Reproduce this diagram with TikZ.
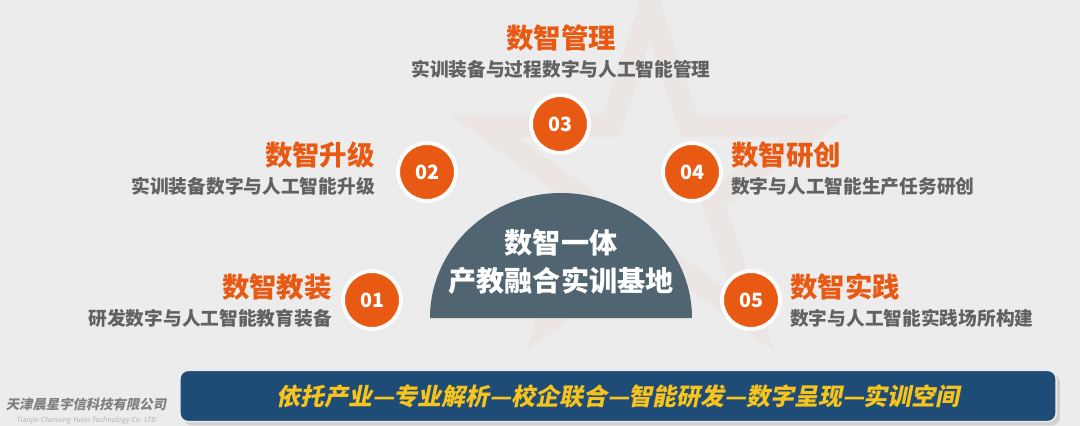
\documentclass[tikz,border=0pt]{standalone}
\usepackage{fontspec}
\setmainfont{Noto Sans CJK SC}
\newfontfamily\slantfont[FakeSlant=0.2]{Noto Sans CJK SC}
\usepackage{tikz}
\usetikzlibrary{positioning}
\usetikzlibrary{shadows}
\definecolor{paper}{RGB}{236,236,236}
\definecolor{orng}{RGB}{232,90,20}
\definecolor{subgray}{RGB}{98,98,98}
\definecolor{slate}{RGB}{80,101,113}
\definecolor{navy}{RGB}{30,76,118}
\definecolor{gold}{RGB}{246,196,28}

\begin{document}
\begin{tikzpicture}[x=0.025cm,y=-0.025cm,
    num/.style={circle,fill=orng,draw=white!97!gray,line width=0.1cm,minimum size=1.45cm,inner sep=0pt,
      text=white,font=\bfseries\fontsize{14}{16}\selectfont,drop shadow={opacity=0.18,shadow xshift=0.5pt,shadow yshift=-1pt}},
    head/.style={text=orng,font=\bfseries\fontsize{19.5}{22}\selectfont,inner sep=0pt},
    sub/.style={text=subgray,font=\bfseries\fontsize{13.3}{15}\selectfont,inner sep=0pt}]
      \useasboundingbox (0,0) rectangle (1080,426);
      \fill[paper] (0,0) rectangle (1080,426);
      \draw[orng,opacity=0.04,line width=0.55cm,line join=miter]
        (650,5) -- (689,126) -- (816,126) -- (713,201) -- (753,322) -- (650,247)
        -- (547,322) -- (587,201) -- (484,126) -- (611,126) -- cycle;
      \fill[slate] (430,318) arc[start angle=180,end angle=360,x radius=131,y radius=125] -- cycle;
      \node[text=white,align=center,font=\bfseries\fontsize{20}{27}\selectfont] (core) at (561,262) {数智一体\\产教融合实训基地};
      \node[num] (c1) at (372,300) {01};
      \node[num] (c2) at (427,172) {02};
      \node[num] (c3) at (560,124) {03};
      \node[num] (c4) at (692,172) {04};
      \node[num] (c5) at (751,300) {05};
      \node[head,anchor=east] (h1) at (332,287) {数智教装};
      \node[sub,below=6pt of h1.south east,anchor=north east] (s1) {研发数字与人工智能教育装备};
      \node[head,anchor=east] (h2) at (375,155) {数智升级};
      \node[sub,below=6pt of h2.south east,anchor=north east] (s2) {实训装备数字与人工智能升级};
      \node[head] (h3) at (561,38) {数智管理};
      \node[sub,below=6pt of h3] (s3) {实训装备与过程数字与人工智能管理};
      \node[head,anchor=west] (h4) at (731,155) {数智研创};
      \node[sub,below=6pt of h4.south west,anchor=north west] (s4) {数字与人工智能生产任务研创};
      \node[head,anchor=west] (h5) at (790,287) {数智实践};
      \node[sub,below=6pt of h5.south west,anchor=north west] (s5) {数字与人工智能实践场所构建};
      \node[fill=navy,draw=white!85!gray,line width=1pt,rounded corners=6pt,minimum width=21.9cm,minimum height=1.28cm,
        drop shadow={opacity=0.25},text=gold,font=\slantfont\bfseries\fontsize{17}{19}\selectfont] (bar) at (618,396)
        {依托产业—专业解析—校企联合—智能研发—数字呈现—实训空间};
      \node[text=black!50,font=\slantfont\bfseries\fontsize{9.5}{11}\selectfont,inner sep=0pt] (firm) at (86,404) {天津晨星宇信科技有限公司};
      \node[text=black!30,font=\slantfont\fontsize{5}{6}\selectfont,inner sep=0pt,below=4pt of firm] (firmen) {Tianjin Chenxing Yuxin Technology Co. LTD};
\end{tikzpicture}
\end{document}
